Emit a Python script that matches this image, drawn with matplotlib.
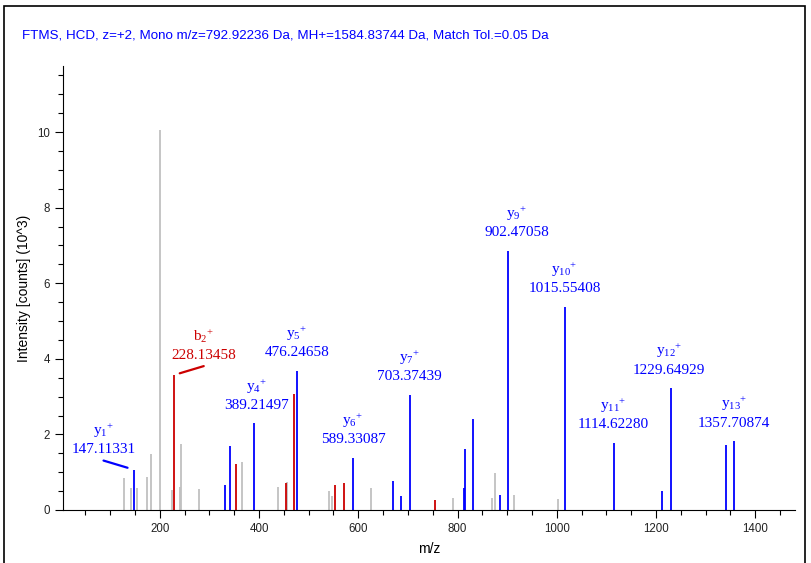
import matplotlib
matplotlib.use('Agg')
import matplotlib.pyplot as plt
from matplotlib.patches import Rectangle
from matplotlib.ticker import MultipleLocator

### Data (intensity in 10^3 counts)

# labelled y ions
y_names = ['y1', 'y4', 'y5', 'y6', 'y7', 'y9', 'y10', 'y11', 'y12', 'y13']
y_mz = [147.11331, 389.21497, 476.24658, 589.33087, 703.37439,
        902.47058, 1015.55408, 1114.62280, 1229.64929, 1357.70874]
y_int = [1.07, 2.29, 3.68, 1.38, 3.05, 6.86, 5.38, 1.78, 3.22, 1.82]

# labelled b ion
b_names = ['b2']
b_mz = [228.13458]
b_int = [3.57]

# other matched peaks
blue_mz = [330.6, 342.0, 670.5, 686.0, 812.6, 814.6, 831.4, 886.0, 1212.6, 1340.6]
blue_int = [0.67, 1.70, 0.76, 0.38, 0.59, 1.61, 2.41, 0.40, 0.51, 1.73]
red_mz = [354.0, 454.0, 471.0, 553.5, 570.5, 754.0]
red_int = [1.23, 0.71, 3.07, 0.65, 0.72, 0.27]

# unassigned peaks
grey_mz = [128.6, 141.2, 154.6, 174.6, 182.6, 200.0, 225.3, 241.3, 243.3, 278.6,
           366.0, 438.5, 457.0, 541.6, 548.0, 626.0, 791.0, 868.5, 876.0, 912.8, 1003.0]
grey_int = [0.85, 0.59, 0.57, 0.87, 1.47, 10.05, 0.53, 0.61, 1.75, 0.56,
            1.28, 0.62, 0.74, 0.51, 0.36, 0.58, 0.32, 0.32, 0.99, 0.40, 0.29]

title = 'FTMS, HCD, z=+2, Mono m/z=792.92236 Da, MH+=1584.83744 Da, Match Tol.=0.05 Da'

BLUE = '#0000ff'
RED = '#cc0000'
GREY = '#c0c0c0'
serif = ['Liberation Serif', 'DejaVu Serif']
plt.rcParams['font.family'] = ['Liberation Sans', 'DejaVu Sans']
plt.rcParams['mathtext.fontset'] = 'custom'
plt.rcParams['mathtext.rm'] = 'Liberation Serif'
plt.rcParams['mathtext.it'] = 'Liberation Serif:italic'

### Plot

fig = plt.figure(figsize=(8.11, 5.63), dpi=100)
ax = fig.add_axes([63/811, 53/563, 732/811, 444/563])

lw = 1.3
ax.vlines(grey_mz, 0, grey_int, color=GREY, lw=lw)
ax.vlines(red_mz, 0, red_int, color=RED, lw=lw)
ax.vlines(blue_mz, 0, blue_int, color=BLUE, lw=lw)
ax.vlines(b_mz, 0, b_int, color=RED, lw=lw)
ax.vlines(y_mz, 0, y_int, color=BLUE, lw=lw)

# label offsets in pixels (dx), the crowded ones get a leader line
dx_lab = {'y1': -30, 'y4': 3, 'y9': 8, 'y12': -2, 'b2': 30}
leader = {'y1', 'b2'}


def label_peaks(names, mzs, ints, col):
    for nm, m, h in zip(names, mzs, ints):
        dx = dx_lab.get(nm, 0)
        dy = 2 if nm in leader else 0
        ion = r'$\mathrm{%s_{%s}{}^{+}}$' % (nm[0], nm[1:])
        ax.annotate('%.5f' % m, xy=(m, h), xytext=(dx, 18 + dy), textcoords='offset pixels',
                    ha='center', va='center', color=col, fontsize=11, family=serif)
        ax.annotate(ion, xy=(m, h), xytext=(dx, 37 + dy), textcoords='offset pixels',
                    ha='center', va='center', color=col, fontsize=11, family=serif)
        if nm in leader:
            ax.annotate('', xy=(m, h), xytext=(dx, 9), textcoords='offset pixels',
                        arrowprops=dict(arrowstyle='-', color=col, lw=1.6,
                                        shrinkA=0, shrinkB=4.5))


label_peaks(y_names, y_mz, y_int, BLUE)
label_peaks(b_names, b_mz, b_int, RED)

ax.set_xlim(5, 1480)
ax.set_ylim(0, 11.75)
ax.xaxis.set_major_locator(MultipleLocator(200))
ax.xaxis.set_minor_locator(MultipleLocator(50))
ax.yaxis.set_major_locator(MultipleLocator(2))
ax.yaxis.set_minor_locator(MultipleLocator(0.5))
ax.tick_params(which='major', length=6, width=0.8, labelsize=8.3, labelcolor='#222222')
ax.tick_params(which='minor', length=3.5, width=0.8)
ax.set_xticks([200, 400, 600, 800, 1000, 1200, 1400])
for s in ['top', 'right']:
    ax.spines[s].set_visible(False)
ax.set_xlabel('m/z', fontsize=10, labelpad=5)
ax.set_ylabel('Intensity [counts] (10^3)', fontsize=10, labelpad=4)

fig.text(22/811, 1 - 35/563, title, color=BLUE, fontsize=9.6, va='center', ha='left')
fig.add_artist(Rectangle((4/811, -0.01), 801/811, 1 - 6/563 + 0.01, transform=fig.transFigure,
                         fill=False, edgecolor='black', lw=1.2))

fig.savefig('out.png', dpi=100)
